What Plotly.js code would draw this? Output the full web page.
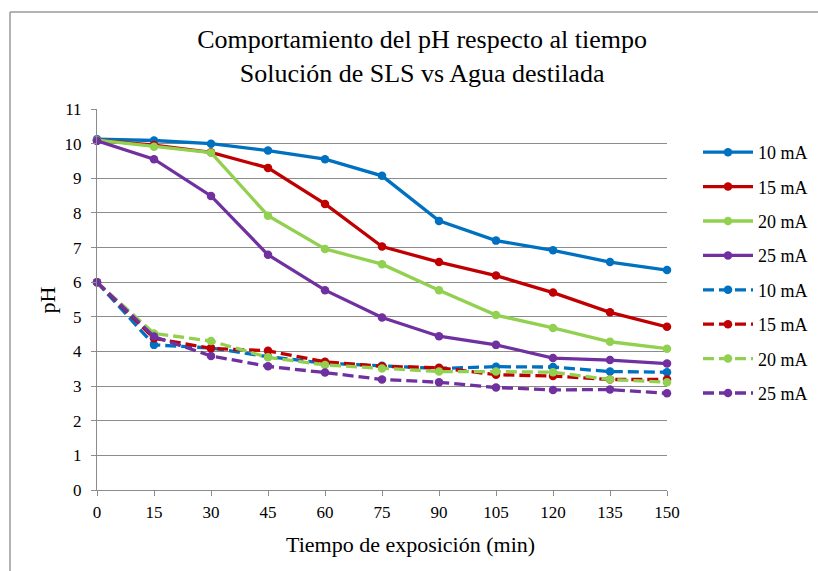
<!DOCTYPE html>
<html>
<head>
<meta charset="utf-8">
<script src="https://cdn.plot.ly/plotly-3.0.1.min.js"></script>
<style>html,body{margin:0;padding:0;background:#fff;}#chart{width:818px;height:571px;}</style>
</head>
<body>
<div id="chart"></div>
<script>
// Tiempo de exposición (min)
const tiempo = [0, 15, 30, 45, 60, 75, 90, 105, 120, 135, 150];

// Solución de SLS (líneas continuas)
const sls10 = [10.13, 10.09, 10.0, 9.8, 9.55, 9.07, 7.77, 7.2, 6.92, 6.58, 6.35];
const sls15 = [10.1, 9.96, 9.75, 9.3, 8.26, 7.03, 6.58, 6.19, 5.7, 5.13, 4.71];
const sls20 = [10.1, 9.91, 9.74, 7.92, 6.96, 6.52, 5.77, 5.05, 4.68, 4.28, 4.08];
const sls25 = [10.08, 9.55, 8.49, 6.79, 5.77, 4.98, 4.44, 4.19, 3.81, 3.75, 3.65];

// Agua destilada (líneas discontinuas)
const agua10 = [6.0, 4.19, 4.1, 3.85, 3.66, 3.59, 3.51, 3.56, 3.55, 3.42, 3.4];
const agua15 = [6.0, 4.38, 4.09, 4.02, 3.7, 3.57, 3.53, 3.33, 3.29, 3.19, 3.19];
const agua20 = [6.0, 4.52, 4.3, 3.83, 3.61, 3.51, 3.42, 3.42, 3.4, 3.19, 3.11];
const agua25 = [6.0, 4.43, 3.87, 3.57, 3.39, 3.19, 3.11, 2.96, 2.89, 2.9, 2.79];

const seriesNames = ["10 mA", "15 mA", "20 mA", "25 mA"];
const colors = ["#0070C0", "#C00000", "#92D050", "#7030A0"];

const slsData = [sls10, sls15, sls20, sls25];
const aguaData = [agua10, agua15, agua20, agua25];

const traces = [];
slsData.forEach((vals, i) => {
  traces.push({
    x: tiempo, y: vals, type: "scatter", mode: "lines+markers",
    name: seriesNames[i], legendgroup: "s" + i,
    line: {color: colors[i], width: 3.3},
    marker: {color: colors[i], size: 8.5},
    cliponaxis: false
  });
});
aguaData.forEach((vals, i) => {
  traces.push({
    x: tiempo, y: vals, type: "scatter", mode: "lines+markers",
    name: seriesNames[i], legendgroup: "a" + i,
    line: {color: colors[i], width: 3.3, dash: "11px,5px"},
    marker: {color: colors[i], size: 8.5},
    cliponaxis: false
  });
});

const font = "Liberation Serif";
const layout = {
  width: 818, height: 571,
  paper_bgcolor: "#fff", plot_bgcolor: "#fff",
  margin: {l: 97, r: 151, t: 109, b: 81},
  font: {family: font, color: "#000", size: 17},
  title: {
    text: "Comportamiento del pH respecto al tiempo<br>Solución de SLS vs Agua destilada",
    font: {family: font, size: 26, color: "#000"},
    x: 0.516, xanchor: "center", xref: "container",
    y: 1 - 48 / 571, yanchor: "top", yref: "container"
  },
  xaxis: {
    range: [0, 150], tickvals: tiempo, ticktext: tiempo.map(String),
    showgrid: false, zeroline: false,
    showline: true, linecolor: "#8C8C8C", linewidth: 1,
    ticks: "outside", ticklen: 5, tickcolor: "#8C8C8C",
    ticklabelstandoff: 2,
    tickfont: {family: font, size: 17, color: "#000"}
  },
  yaxis: {
    range: [0, 11], dtick: 1, tick0: 0,
    showgrid: true, gridcolor: "#8C8C8C", gridwidth: 1,
    zeroline: false,
    showline: true, linecolor: "#8C8C8C", linewidth: 1,
    ticks: "outside", ticklen: 5, tickcolor: "#8C8C8C",
    ticklabelstandoff: 6,
    tickfont: {family: font, size: 17, color: "#000"}
  },
  legend: {
    x: 698 / 818, xanchor: "left", xref: "container",
    y: 1 - 134 / 571, yanchor: "top", yref: "container",
    font: {family: font, size: 18, color: "#000"},
    itemwidth: 50, traceorder: "grouped", tracegroupgap: 8,
    bgcolor: "rgba(0,0,0,0)"
  },
  annotations: [
    {text: "Tiempo de exposición (min)", xref: "paper", yref: "paper",
     x: (410 - 97) / 570, y: -0.142, xanchor: "center", yanchor: "middle",
     showarrow: false, font: {family: font, size: 22, color: "#000"}},
    {text: "pH", xref: "paper", yref: "paper", textangle: -90,
     x: -0.086, y: 0.5, xanchor: "center", yanchor: "middle",
     showarrow: false, font: {family: font, size: 22, color: "#000"}}
  ],
  shapes: [
    {type: "line", xref: "paper", yref: "paper",
     x0: (10 - 97) / 570, x1: (830 - 97) / 570, y0: (490 - 12) / 381, y1: (490 - 12) / 381,
     line: {color: "#9A9A9A", width: 1.5}},
    {type: "line", xref: "paper", yref: "paper",
     x0: (10 - 97) / 570, x1: (10 - 97) / 570, y0: (490 - 12) / 381, y1: (490 - 580) / 381,
     line: {color: "#9A9A9A", width: 1.5}}
  ],
  showlegend: true
};

Plotly.newPlot("chart", traces, layout, {displayModeBar: false, staticPlot: true});
</script>
</body>
</html>
